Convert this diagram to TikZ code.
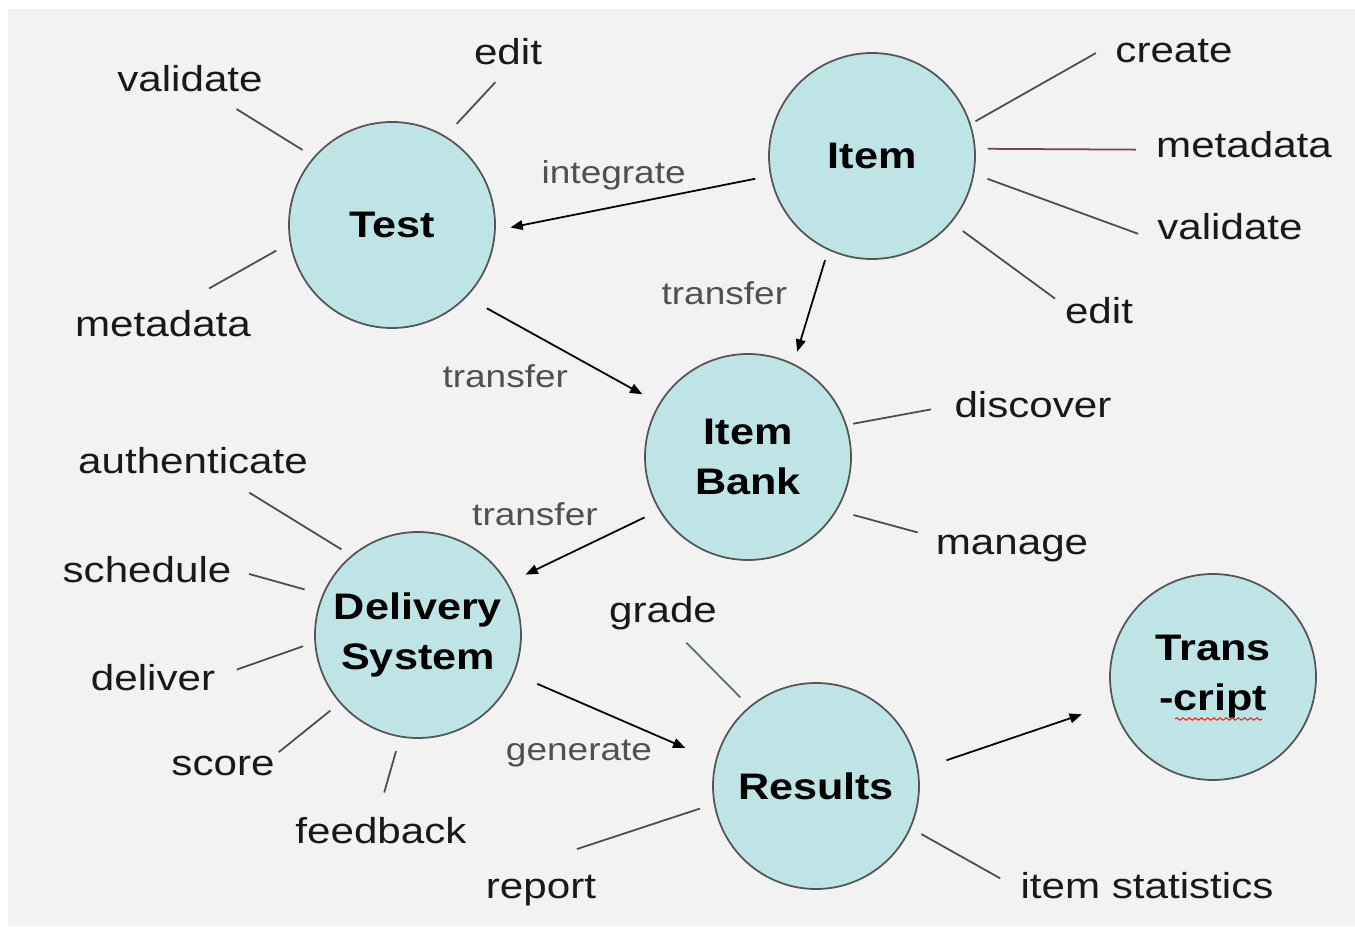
\documentclass[tikz,border=0pt]{standalone}
\usepackage{fontspec}
\setmainfont[FakeStretch=1.17]{Liberation Sans}
\usepackage{tikz}
\usetikzlibrary{positioning, arrows.meta, decorations.pathmorphing}
\usepackage{xcolor}
\definecolor{panel}{RGB}{242,242,242}
\definecolor{bubble}{RGB}{190,228,230}
\definecolor{rim}{RGB}{85,85,85}
\definecolor{verbgray}{RGB}{80,80,80}
\definecolor{metaline}{RGB}{120,72,72}
\definecolor{gradeline}{RGB}{80,112,118}

\begin{document}
\begin{tikzpicture}[
    topic/.style={circle, draw=rim, line width=1pt, fill=bubble, minimum size=4.12cm, inner sep=0pt, align=center, font=\fontsize{21}{28.45}\selectfont\bfseries},
    task/.style={anchor=base, inner sep=0pt, text=black!90, font=\fontsize{20.5}{24}\selectfont},
    verb/.style={inner sep=0pt, text=verbgray, font=\fontsize{18}{21}\selectfont},
    spoke/.style={line width=1pt, draw=black!70},
    flow/.style={line width=1pt, -{Triangle[length=7pt, width=5.5pt]}}
]
    % background
    \useasboundingbox (0,0) rectangle (27.1,18.52);
    \fill[white] (0,0) rectangle (27.1,18.52);
    \fill[panel] (0.16,0) rectangle (27.1,18.34);

    % main circles
    \node[topic] (test) at (7.84,14.02) {Test};
    \node[topic] (item) at (17.44,15.40) {Item};
    \node[topic] (bank) at (14.96,9.38) {Item\\Bank};
    \node[topic] (deliv) at (8.36,5.82) {Delivery\\System};
    \node[topic] (results) at (16.32,2.80) {Results};
    \node[topic] (trans) at (24.26,4.98) {Trans\\-cript};
    \draw[red, line width=0.5pt, decorate, decoration={snake, amplitude=0.7pt, segment length=3.5pt}]
        ([shift={(-0.76,-0.84)}]trans.center) -- ++(1.74,0);

    % tasks around the circles
    \node[task] (valT) at (3.80,16.68) {validate};
    \node[task] (editT) at (10.16,17.22) {edit};
    \node[task] (metaT) at (3.26,11.78) {metadata};
    \node[task] (create) at (23.48,17.26) {create};
    \node[task] (metaI) at (24.88,15.36) {metadata};
    \node[task] (valI) at (24.60,13.72) {validate};
    \node[task] (editI) at (21.98,12.04) {edit};
    \node[task] (discover) at (20.66,10.16) {discover};
    \node[task] (manage) at (20.24,7.44) {manage};
    \node[task] (auth) at (3.86,9.06) {authenticate};
    \node[task] (sched) at (2.94,6.88) {schedule};
    \node[task] (deliver) at (3.06,4.72) {deliver};
    \node[task] (score) at (4.46,3.02) {score};
    \node[task] (feedback) at (7.62,1.66) {feedback};
    \node[task] (grade) at (13.26,6.08) {grade};
    \node[task] (report) at (10.82,0.56) {report};
    \node[task] (stats) at (22.94,0.56) {item statistics};

    % spokes
    \draw[spoke, shorten <=0.26cm, shorten >=0.62cm] (test.139) -- (valT.-34);
    \draw[spoke, shorten <=0.33cm, shorten >=0.45cm] (test.59) -- (editT.-79);
    \draw[spoke, shorten <=0.31cm, shorten >=0.9cm] (test.190) -- (metaT.63);
    \draw[spoke, shorten <=0.11cm, shorten >=0.44cm] (item.18) -- (create.171);
    \draw[spoke, draw=metaline, shorten <=0.24cm, shorten >=0.4cm] (item.4) -- (metaI.183);
    \draw[spoke, shorten <=0.28cm, shorten >=0.4cm] (item.-10) -- (valI.south west);
    \draw[spoke, shorten <=0.28cm, shorten >=0.24cm] (item.-40) -- (editI.171);
    \draw[spoke, shorten <=0.13cm, shorten >=0.47cm] (bank.18) -- (discover.west);
    \draw[spoke, shorten <=0.34cm, shorten >=0.37cm] (bank.-31) -- (manage.172);
    \draw[spoke, shorten <=0.23cm, shorten >=0.72cm] (deliv.130) -- (auth.-28);
    \draw[spoke, shorten <=0.37cm, shorten >=0.36cm] (deliv.157) -- (sched.east);
    \draw[spoke, shorten <=0.24cm, shorten >=0.45cm] (deliv.184) -- (deliver.east);
    \draw[spoke, shorten <=0.24cm, shorten >=0.1cm] (deliv.221) -- (score.north east);
    \draw[spoke, shorten <=0.29cm, shorten >=0.5cm] (deliv.260) -- (feedback.105);
    \draw[spoke, draw=gradeline, shorten <=0.25cm, shorten >=0.36cm] (results.130) -- (grade.-58);
    \draw[spoke, shorten <=0.29cm, shorten >=1.62cm] (results.190) -- (report.159);
    \draw[spoke, shorten <=0.24cm, shorten >=0.46cm] (results.-24) -- (stats.182);

    % flows between circles
    \draw[flow, shorten <=0.3cm, shorten >=0.3cm] (item.191) --
        node[verb, pos=0.57, above=0.33cm] {integrate} (test.-3);
    \draw[flow, shorten <=0.46cm, shorten >=0.38cm] (test.-44) --
        node[verb, pos=0.56, below left=0.15cm and 0.11cm] {transfer} (bank.149);
    \draw[flow, shorten <=0.21cm, shorten >=0.25cm] (item.245) --
        node[verb, pos=0.38, left=0.54cm] {transfer} (bank.64);
    \draw[flow, shorten <=0.32cm, shorten >=0.39cm] (bank.211) --
        node[verb, pos=0.4, above left=0.25cm and 0cm] {transfer} (deliv.30);
    \draw[flow, shorten <=0.5cm, shorten >=0.65cm] (deliv.-22) --
        node[verb, pos=0.69, below left=0.11cm and 0cm] {generate} (results.166);
    \draw[flow, shorten <=0.59cm, shorten >=0.65cm] (results.9) -- (trans.195);
\end{tikzpicture}
\end{document}
